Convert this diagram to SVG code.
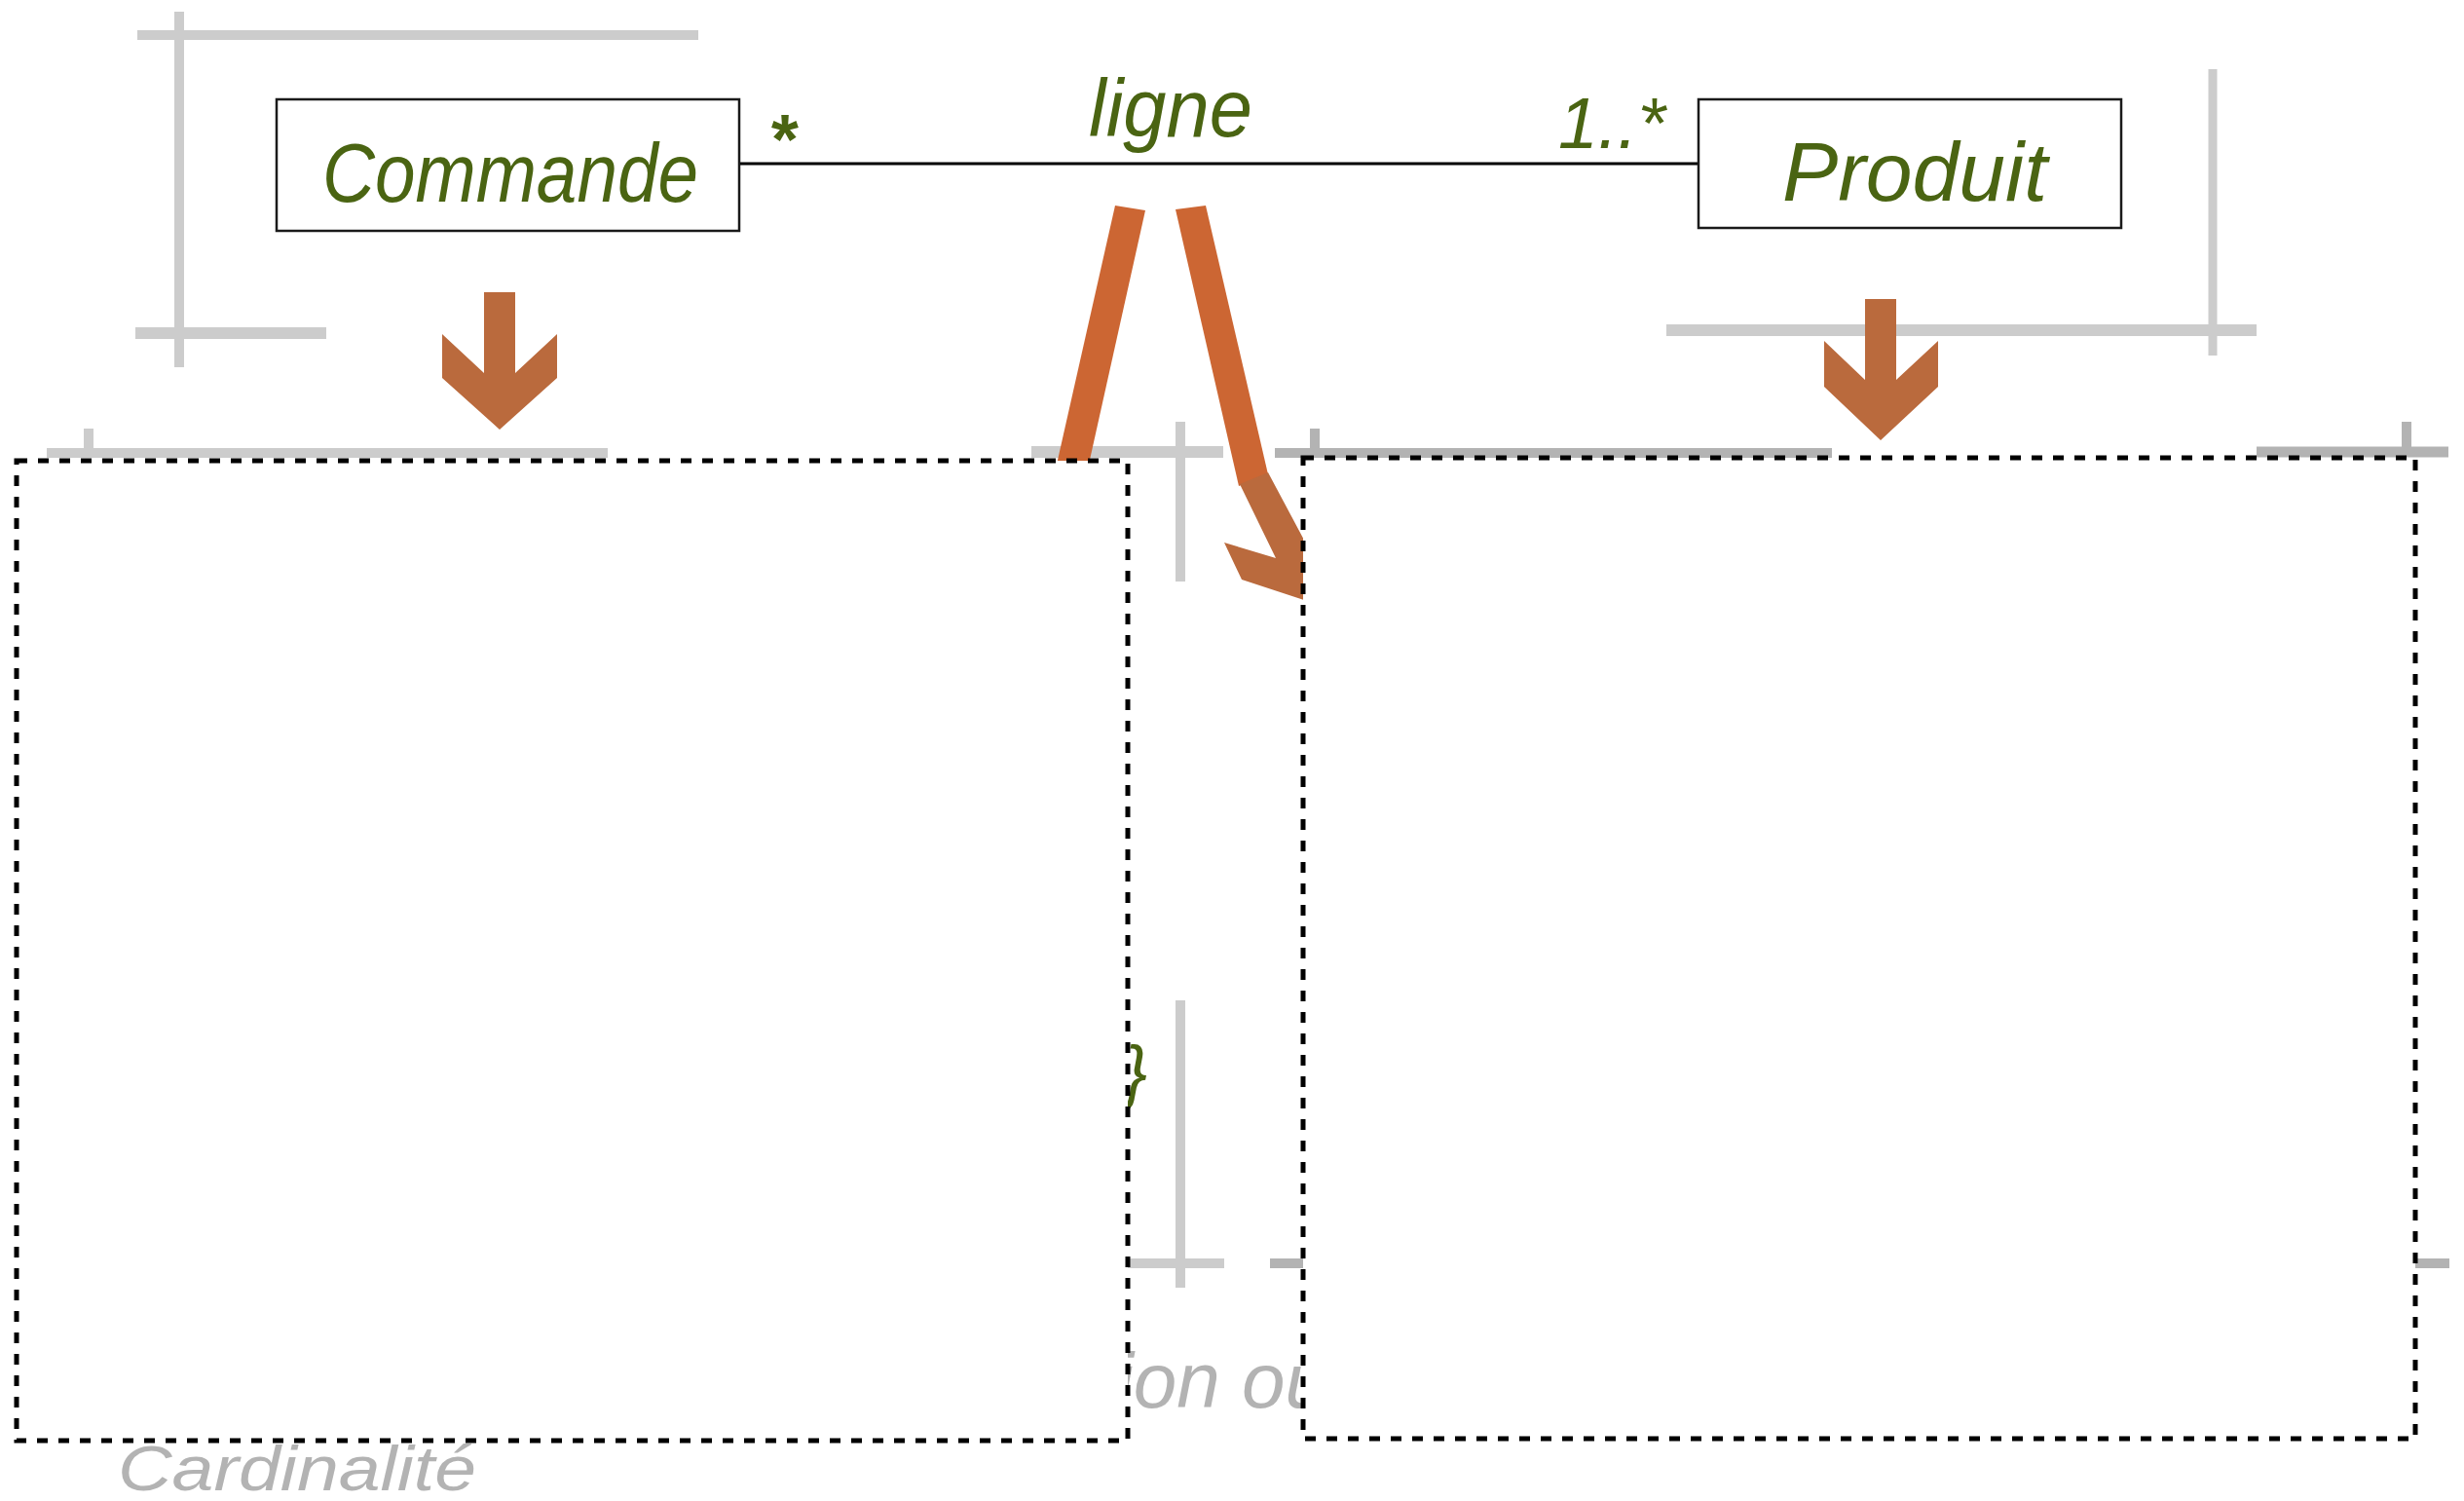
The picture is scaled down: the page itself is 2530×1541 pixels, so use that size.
<svg xmlns="http://www.w3.org/2000/svg" width="2530" height="1541" viewBox="0 0 2530 1541">
<style>
.lg{stroke:#CCCCCC;fill:none}
.dg{stroke:#B3B3B3;fill:none}
.box{fill:#FFFFFF;stroke:#1A1A1A;stroke-width:2.5}
.frame{fill:#FFFFFF;stroke:#000000;stroke-width:5;stroke-dasharray:11 11}
.lbl{font-family:"Liberation Sans",Arial,sans-serif;font-style:italic;fill:#4A6412}
.ghost{font-family:"Liberation Sans",Arial,sans-serif;font-style:italic;fill:#B3B3B3}
.arr{fill:#BA6A3D}
.str{fill:#CC6633}
</style>
<rect width="2530" height="1541" fill="#FFFFFF"/>
<g id="guides">
<line class="lg" x1="184" y1="12" x2="184" y2="377" stroke-width="10"/>
<line class="lg" x1="141" y1="36" x2="717" y2="36" stroke-width="10"/>
<line class="lg" x1="139" y1="342" x2="335" y2="342" stroke-width="12"/>
<line class="lg" x1="2272" y1="71" x2="2272" y2="365" stroke-width="9"/>
<line class="lg" x1="1711" y1="339" x2="2317" y2="339" stroke-width="12"/>
<line class="lg" x1="48" y1="465" x2="624" y2="465" stroke-width="10"/>
<line class="lg" x1="91" y1="440" x2="91" y2="465" stroke-width="10"/>
<line class="lg" x1="1059" y1="464" x2="1256" y2="464" stroke-width="12"/>
<line class="lg" x1="1212" y1="433" x2="1212" y2="597" stroke-width="10"/>
<line class="dg" x1="1309" y1="465" x2="1881" y2="465" stroke-width="10"/>
<line class="dg" x1="1350" y1="440" x2="1350" y2="465" stroke-width="10"/>
<line class="dg" x1="2317" y1="464" x2="2514" y2="464" stroke-width="11"/>
<line class="dg" x1="2471" y1="433" x2="2471" y2="464" stroke-width="10"/>
<line class="lg" x1="1212" y1="1027" x2="1212" y2="1322" stroke-width="10"/>
<line class="lg" x1="1120" y1="1297" x2="1257" y2="1297" stroke-width="10"/>
<line class="dg" x1="1304" y1="1297" x2="1345" y2="1297" stroke-width="10"/>
<line class="dg" x1="2470" y1="1297" x2="2515" y2="1297" stroke-width="10"/>
</g>
<g id="connectors">
<line x1="759" y1="168" x2="1744" y2="168" stroke="#000000" stroke-width="3"/>
<polygon class="arr" points="497,300 529,300 529,383 572,343 572,388 513,441 454,388 454,343 497,383"/>
<polygon class="arr" points="1915,307 1947,307 1947,390 1990,350 1990,397 1931,452 1873,397 1873,350 1915,390"/>
<polygon class="str" points="1145,211 1176,216 1115,490 1082,490"/>
<polygon class="str" points="1207,215 1238,211 1302,487 1272,499"/>
<polygon class="arr" points="1273,497 1302,485 1342,560 1345,618 1275,595 1257,557 1310,573"/>
</g>
<g id="fragments">
<text class="lbl" x="1178" y="1125" font-size="72" text-anchor="end">}</text>
<text class="ghost" x="1146" y="1445" font-size="80">ion ou</text>
<text class="ghost" x="121" y="1530" font-size="64" textLength="368" lengthAdjust="spacingAndGlyphs">Cardinalité</text>
<text x="1265" y="1556" font-size="22" font-family="Liberation Sans,Arial,sans-serif" fill="#333333">15</text>
</g>
<g id="frame-left">
<rect class="frame" x="17" y="473" width="1141" height="1006"/>
</g>
<g id="frame-right">
<rect class="frame" x="1338" y="470" width="1142" height="1007"/>
</g>
<g id="node-commande">
<rect class="box" x="284" y="102" width="475" height="135"/>
<text class="lbl" x="331" y="207" font-size="86" textLength="386" lengthAdjust="spacingAndGlyphs">Commande</text>
</g>
<g id="node-produit">
<rect class="box" x="1744" y="102" width="434" height="132"/>
<text class="lbl" x="1830" y="206" font-size="86" textLength="272" lengthAdjust="spacingAndGlyphs">Produit</text>
</g>
<g id="labels">
<text class="lbl" x="1118" y="140" font-size="84" textLength="168" lengthAdjust="spacingAndGlyphs">ligne</text>
<text class="lbl" x="789" y="168" font-size="72" font-weight="bold">*</text>
<text class="lbl" x="1600" y="152" font-size="75" textLength="110" lengthAdjust="spacingAndGlyphs">1..*</text>
</g>
</svg>
